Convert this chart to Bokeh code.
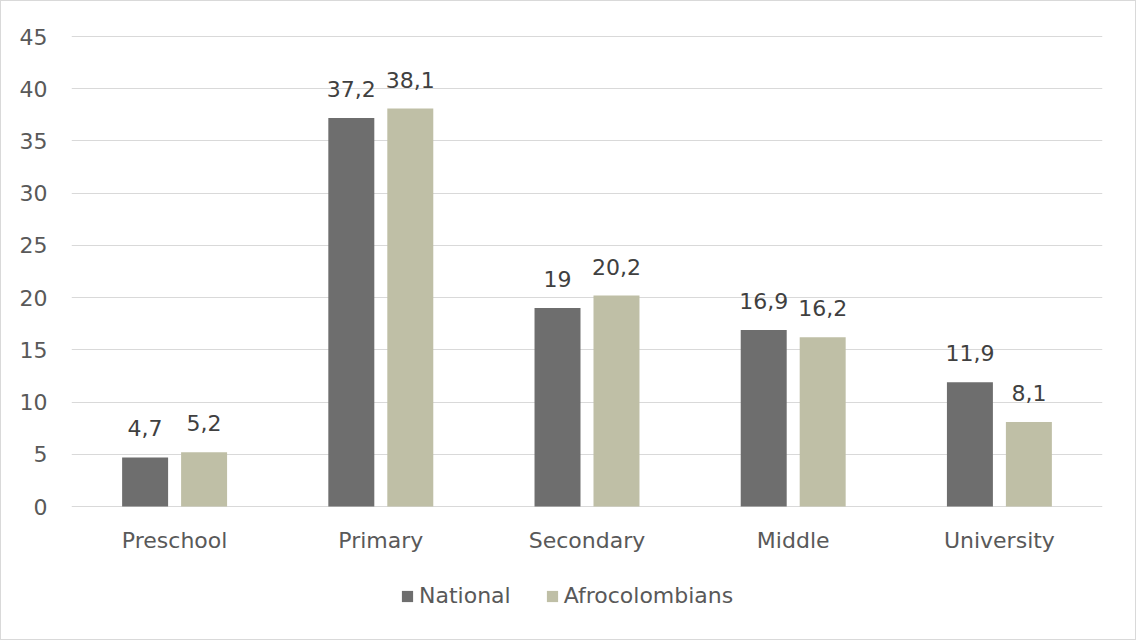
from bokeh.plotting import figure
from bokeh.models import ColumnDataSource, FactorRange, Range1d, FixedTicker, Legend, LegendItem
from bokeh.transform import dodge
from bokeh.core.properties import value
from bokeh.embed import file_html
from bokeh.resources import INLINE

categories = ["Preschool", "Primary", "Secondary", "Middle", "University"]
national = [4.7, 37.2, 19.0, 16.9, 11.9]
afro = [5.2, 38.1, 20.2, 16.2, 8.1]
series_names = ["National", "Afrocolombians"]
y_ticks = [0, 5, 10, 15, 20, 25, 30, 35, 40, 45]

def fmt(v):
    s = ("%.1f" % v).rstrip("0").rstrip(".")
    return s.replace(".", ",")

src = ColumnDataSource(dict(
    cat=categories,
    national=national,
    afro=afro,
    nat_lbl=[fmt(v) for v in national],
    afro_lbl=[fmt(v) for v in afro],
    zero=[0] * len(categories),
))

FONT = "DejaVu Sans"
FS = "22px"
C_NAT = "#6e6e6e"
C_AFRO = "#bfbfa6"

# layout: 45 -> 470 px span; frame extends below the axis to hold category labels and legend
FRAME_H = 604
px_per_unit = 470 / 45
y_top = 45 + 1 / px_per_unit
y_bot = y_top - FRAME_H / px_per_unit

p = figure(frame_width=1031, frame_height=FRAME_H, x_range=FactorRange(*categories, range_padding=0),
           y_range=Range1d(y_bot, y_top), output_backend="svg", toolbar_location=None,
           x_axis_location=None,
           min_border_left=70, min_border_right=33, min_border_top=34, min_border_bottom=0)
p.styles = {"border": "1px solid #d9d9d9"}
p.outline_line_color = None
p.background_fill_color = "white"
p.border_fill_color = "white"

r1 = p.vbar(x=dodge("cat", -0.143, range=p.x_range), top="national", width=0.223,
            source=src, color=C_NAT, line_color=None)
r2 = p.vbar(x=dodge("cat", 0.143, range=p.x_range), top="afro", width=0.223,
            source=src, color=C_AFRO, line_color=None)

p.text(x=dodge("cat", -0.143, range=p.x_range), y="national", text="nat_lbl", source=src,
       text_align="center", text_baseline="alphabetic", y_offset=-29,
       text_font=value(FONT), text_font_size=FS, text_color="#404040")
p.text(x=dodge("cat", 0.143, range=p.x_range), y="afro", text="afro_lbl", source=src,
       text_align="center", text_baseline="alphabetic", y_offset=-29,
       text_font=value(FONT), text_font_size=FS, text_color="#404040")

# category labels under the baseline
p.text(x="cat", y="zero", text="cat", source=src,
       text_align="center", text_baseline="alphabetic", y_offset=34,
       text_font=value(FONT), text_font_size=FS, text_color="#595959")

p.yaxis.ticker = FixedTicker(ticks=y_ticks)
p.ygrid.ticker = FixedTicker(ticks=y_ticks)
p.xgrid.grid_line_color = None
p.ygrid.grid_line_color = "#d9d9d9"
p.ygrid.grid_line_width = 1

p.yaxis.axis_line_color = None
p.yaxis.major_tick_line_color = None
p.yaxis.minor_tick_line_color = None
p.yaxis.major_label_text_font = FONT
p.yaxis.major_label_text_font_size = FS
p.yaxis.major_label_text_color = "#595959"
p.yaxis.major_label_standoff = 18

legend = Legend(items=[LegendItem(label=series_names[0], renderers=[r1]),
                       LegendItem(label=series_names[1], renderers=[r2])],
                orientation="horizontal", location=(329, 31),
                label_text_font=FONT, label_text_font_size=FS, label_text_color="#595959",
                glyph_width=14, glyph_height=14, spacing=34, label_standoff=5,
                border_line_color=None, background_fill_alpha=0, margin=0, padding=0)
p.add_layout(legend, "center")

open("out.html", "w").write(file_html(p, INLINE))
